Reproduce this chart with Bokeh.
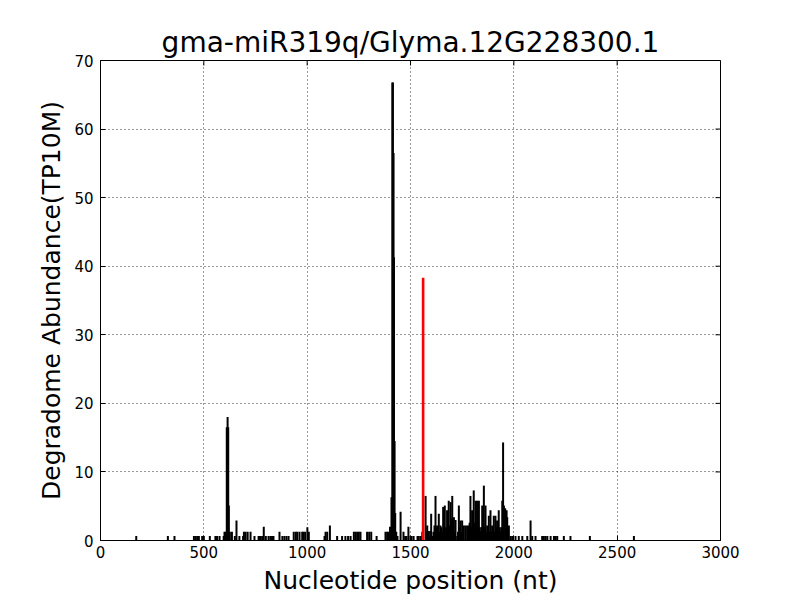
from bokeh.plotting import figure
from bokeh.models import Range1d, FixedTicker
from bokeh.embed import file_html
from bokeh.resources import INLINE

# Degradome reads: nucleotide position -> abundance (TP10M)
positions = [173, 326, 358, 452, 460, 468, 476, 492, 500, 529, 556, 564, 576, 596, 600, 606,
             611, 615, 618, 621, 626, 636, 650, 658, 672, 690, 694, 702, 712, 726, 745, 765,
             772, 782, 790, 800, 813, 822, 830, 837, 866, 880, 890, 900, 910, 935, 945, 952,
             963, 976, 982, 990, 1001, 1008, 1084, 1089, 1097, 1110, 1145, 1169, 1185, 1198,
             1210, 1226, 1234, 1242, 1250, 1258, 1290, 1300, 1310, 1336, 1379, 1387, 1394,
             1401, 1408, 1412, 1415, 1418, 1420, 1423, 1426, 1431, 1437, 1452, 1466, 1474,
             1481, 1490, 1500, 1505, 1515, 1534, 1540, 1549, 1557,
             1573, 1577, 1581, 1585, 1589, 1593, 1597, 1600, 1606, 1611, 1616, 1621, 1625,
             1629, 1633, 1637, 1641, 1645, 1650, 1654, 1658, 1662, 1666,
             1672, 1677, 1681, 1685, 1690, 1694, 1698, 1702, 1706, 1710, 1714, 1718, 1726,
             1730, 1734, 1738, 1742, 1746, 1750, 1758, 1766, 1774,
             1782, 1786, 1790, 1794, 1798, 1802, 1806, 1811, 1815, 1818, 1822, 1827, 1831,
             1835, 1839, 1843, 1847, 1851, 1855, 1859, 1863, 1867, 1871, 1875, 1879,
             1883, 1887, 1891, 1895, 1899, 1903, 1907, 1911, 1915, 1919, 1923, 1927, 1932,
             1936, 1940, 1944, 1948, 1952, 1958, 1965, 1968,
             1976, 1984, 1992, 2008, 2024, 2041, 2065, 2081, 2089, 2105, 2137, 2145, 2153,
             2162, 2178, 2194, 2202, 2210, 2242, 2274, 2368, 2581]
abundance = [0.64, 0.64, 0.64, 0.64, 0.64, 0.64, 0.64, 0.64, 0.64, 0.64, 0.64, 0.64, 0.64, 0.64, 1.28, 1.28,
             16.5, 18.0, 16.5, 5.1, 1.28, 1.28, 0.64, 2.9, 0.64, 0.64, 1.28, 1.28, 1.28, 1.28, 0.64, 0.64,
             0.64, 0.64, 2.0, 0.64, 0.64, 0.64, 0.64, 0.64, 1.28, 0.64, 0.64, 0.64, 0.64, 1.28, 1.28, 1.28,
             1.28, 1.28, 1.28, 1.28, 1.92, 1.28, 0.64, 1.28, 1.28, 2.2, 0.64, 0.64, 0.64, 0.64,
             0.64, 1.28, 1.28, 1.28, 1.28, 1.28, 1.28, 1.28, 1.28, 0.64, 1.28, 1.28, 1.28,
             2.0, 6.3, 66.8, 66.8, 56.5, 41.3, 14.5, 4.0, 1.28, 0.64, 4.2, 1.28, 0.64,
             0.64, 2.0, 0.64, 0.64, 0.64, 0.64, 0.64, 0.64, 1.28,
             6.5, 1.28, 2.2, 1.28, 1.4, 0.64, 1.4, 3.9, 0.64, 1.28, 2.2, 6.5, 1.92,
             2.2, 1.28, 3.9, 1.28, 2.2, 1.92, 1.28, 4.9, 2.2, 5.1,
             1.92, 4.4, 2.6, 5.8, 2.2, 5.6, 3.2, 6.5, 1.92, 3.4, 1.28, 3.0, 0.64,
             1.28, 5.1, 1.92, 2.9, 1.28, 2.9, 2.2, 2.2, 2.2,
             2.2, 2.6, 6.5, 1.92, 4.4, 3.2, 7.3, 2.6, 5.8, 1.92, 5.8, 2.6, 5.8,
             1.92, 1.4, 1.92, 5.1, 2.6, 8.0, 1.92, 5.1, 1.28, 2.2, 1.92, 3.6,
             1.28, 4.4, 1.28, 2.2, 1.92, 3.6, 1.28, 3.6, 1.92, 2.9, 1.28, 4.4, 1.92,
             1.4, 1.92, 5.8, 14.3, 5.1, 4.7, 4.4, 3.4,
             2.2, 0.64, 0.64, 0.64, 0.64, 0.64, 0.64, 2.9, 0.64, 0.64, 0.64, 0.64, 0.64,
             0.64, 0.64, 0.64, 0.64, 0.64, 0.64, 0.64, 0.64, 0.64]
target_position = [1561]
target_abundance = [38.3]

x_ticks = [0, 500, 1000, 1500, 2000, 2500, 3000]
y_ticks = [0, 10, 20, 30, 40, 50, 60, 70]
x_min, x_max = 0, 3000
y_min, y_max = 0, 70

FONT = "DejaVu Sans"

p = figure(width=800, height=600, output_backend="svg", toolbar_location=None,
           x_range=Range1d(x_min, x_max), y_range=Range1d(y_min, y_max),
           min_border_left=100, min_border_right=80, min_border_top=60, min_border_bottom=60,
           title="gma-miR319q/Glyma.12G228300.1")

p.title.align = "center"
p.title.text_font = FONT
p.title.text_font_size = "28px"
p.title.text_font_style = "normal"
p.title.text_color = "black"
p.title.standoff = 4

p.outline_line_color = "black"
p.outline_line_width = 1
p.outline_line_alpha = 1.0
p.background_fill_color = "white"
p.border_fill_color = "white"

y0 = [0] * len(positions)
p.segment(x0=positions, y0=y0, x1=positions, y1=abundance, line_color="black", line_width=2)
p.segment(x0=target_position, y0=[0], x1=target_position, y1=target_abundance,
          line_color="red", line_width=2.6)

for ax in (p.xaxis[0], p.yaxis[0]):
    ax.major_label_text_font = FONT
    ax.major_label_text_font_size = "15px"
    ax.major_label_text_color = "black"
    ax.axis_label_text_font = FONT
    ax.axis_label_text_font_size = "25px"
    ax.axis_label_text_font_style = "normal"
    ax.axis_label_text_color = "black"
    ax.major_tick_in = 5
    ax.major_tick_out = 0
    ax.minor_tick_in = 0
    ax.minor_tick_out = 0
    ax.axis_line_color = "black"
    ax.major_tick_line_color = "black"

p.xaxis.ticker = FixedTicker(ticks=x_ticks)
p.yaxis.ticker = FixedTicker(ticks=y_ticks)
p.xaxis.axis_label = "Nucleotide position (nt)"
p.yaxis.axis_label = "Degradome Abundance(TP10M)"
p.xaxis.major_label_standoff = 5
p.xaxis.axis_label_standoff = 5
p.yaxis.major_label_standoff = 7
p.yaxis.axis_label_standoff = 5

# mirror tick marks on the top and right edges of the frame (matplotlib classic style)
tick_len_y = (y_max - y_min) / 480 * 5
tick_len_x = (x_max - x_min) / 620 * 5
p.segment(x0=x_ticks, y0=[y_max] * len(x_ticks), x1=x_ticks, y1=[y_max - tick_len_y] * len(x_ticks),
          line_color="black", line_width=1)
p.segment(x0=[x_max] * len(y_ticks), y0=y_ticks, x1=[x_max - tick_len_x] * len(y_ticks), y1=y_ticks,
          line_color="black", line_width=1)

p.grid.grid_line_color = "black"
p.grid.grid_line_dash = "1 3"
p.grid.grid_line_alpha = 0.8
p.grid.grid_line_width = 1
p.xgrid.ticker = FixedTicker(ticks=x_ticks)
p.ygrid.ticker = FixedTicker(ticks=y_ticks)

open("out.html", "w").write(file_html(p, INLINE))
